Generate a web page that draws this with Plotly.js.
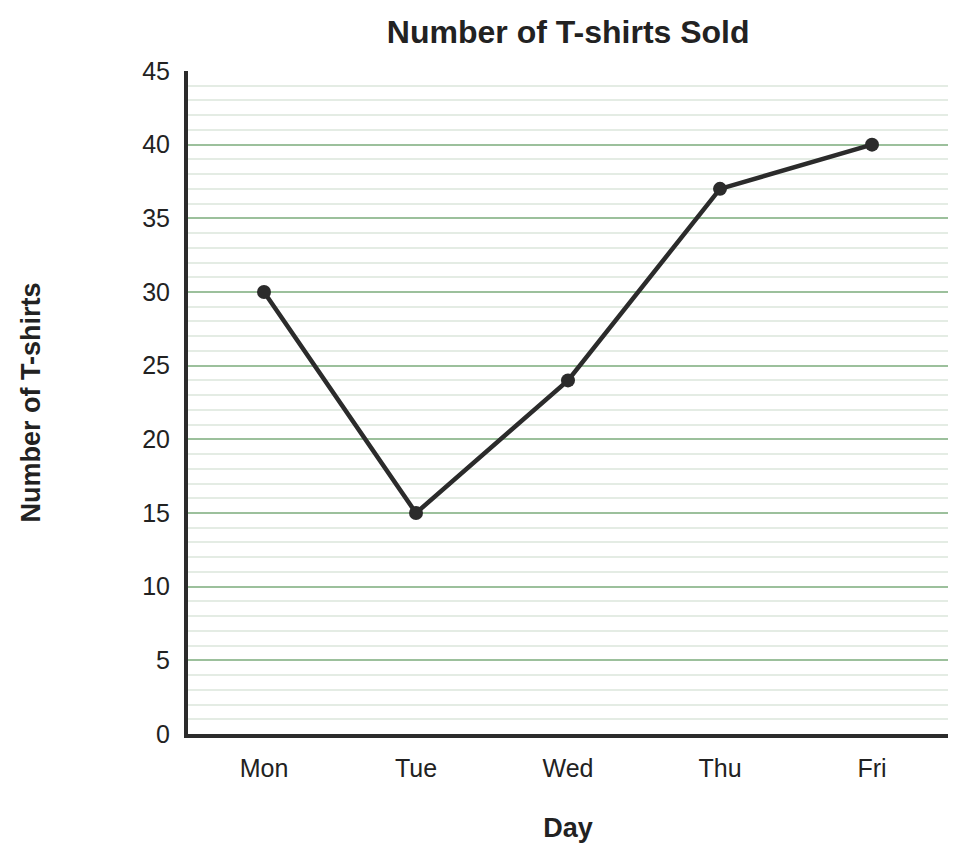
<!DOCTYPE html>
<html>
<head>
<meta charset="utf-8">
<script src="https://cdn.plot.ly/plotly-3.0.1.min.js"></script>
<style>
  html, body { margin: 0; padding: 0; background: #fff; }
  #plot { width: 968px; height: 861px; }
</style>
</head>
<body>
<div id="plot"></div>
<script>
var days = ['Mon', 'Tue', 'Wed', 'Thu', 'Fri'];
var shirtsSold = [30, 15, 24, 37, 40];
var yTicks = [0, 5, 10, 15, 20, 25, 30, 35, 40, 45];

var trace = {
  x: days,
  y: shirtsSold,
  type: 'scatter',
  mode: 'lines+markers',
  line: { color: '#2b2b2b', width: 4.5 },
  marker: { color: '#2b2b2b', size: 14 },
  hoverinfo: 'x+y'
};

var layout = {
  width: 968,
  height: 861,
  margin: { l: 188, r: 20, t: 71, b: 127 },
  paper_bgcolor: '#ffffff',
  plot_bgcolor: '#ffffff',
  font: { family: 'Liberation Sans, Arial, sans-serif', color: '#222222' },
  title: {
    text: '<b>Number of T-shirts Sold</b>',
    font: { size: 32, color: '#222222' },
    x: 0.587, xanchor: 'center',
    y: 0.963, yanchor: 'middle'
  },
  xaxis: {
    type: 'category',
    range: [-0.5, 4.5],
    showgrid: false,
    zeroline: false,
    showline: true,
    linecolor: '#2b2b2b',
    linewidth: 4,
    ticks: '',
    ticklabelstandoff: 9,
    tickfont: { size: 25, color: '#222222' },
    title: { text: '<b>Day</b>', font: { size: 27, color: '#222222' }, standoff: 38 }
  },
  yaxis: {
    range: [0, 45],
    tickvals: yTicks,
    showgrid: true,
    gridcolor: '#9cc09c',
    gridwidth: 2,
    minor: { dtick: 1, showgrid: true, gridcolor: '#e4ece4', gridwidth: 2 },
    zeroline: false,
    showline: true,
    linecolor: '#2b2b2b',
    linewidth: 4,
    ticks: '',
    ticklabelstandoff: 9,
    tickfont: { size: 25, color: '#222222' },
    title: { text: '<b>Number of T-shirts</b>', font: { size: 27, color: '#222222' }, standoff: 95 }
  },
  showlegend: false
};

Plotly.newPlot('plot', [trace], layout, { displayModeBar: false, staticPlot: true });
</script>
</body>
</html>
